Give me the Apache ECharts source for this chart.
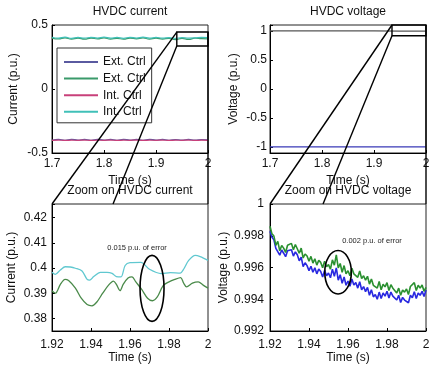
<!DOCTYPE html>
<html><head><meta charset="utf-8">
<script src="https://cdn.jsdelivr.net/npm/echarts@6/dist/echarts.min.js"></script>
<style>html,body{margin:0;padding:0;background:#fff}#c{width:436px;height:371px}</style>
</head><body><div id="c"></div><script>
const FONT = "'Liberation Sans', Arial, sans-serif";

// ---------- DATA ----------
// Top-left: HVDC current (1.7 .. 2 s)
const tTop = [1.7,1.7125,1.725,1.7375,1.75,1.7625,1.775,1.7875,1.8,1.8125,1.825,1.8375,1.85,1.8625,1.875,1.8875,1.9,1.9125,1.925,1.9375,1.95,1.9625,1.975,1.9875,2.0];
const curExtPos = [0.398,0.391,0.399,0.390,0.397,0.389,0.398,0.391,0.399,0.390,0.396,0.389,0.398,0.392,0.399,0.390,0.397,0.390,0.396,0.385,0.396,0.387,0.397,0.393,0.392];
const curIntPos = [0.404,0.397,0.405,0.396,0.403,0.397,0.404,0.398,0.405,0.397,0.403,0.396,0.404,0.398,0.405,0.397,0.403,0.398,0.401,0.396,0.401,0.398,0.399,0.403,0.402];
const curExtNeg = [-0.402,-0.394,-0.401,-0.393,-0.400,-0.394,-0.401,-0.393,-0.400,-0.394,-0.401,-0.393,-0.400,-0.394,-0.401,-0.393,-0.400,-0.394,-0.401,-0.395,-0.400,-0.394,-0.400,-0.395,-0.398];
const curIntNeg = [-0.401,-0.399,-0.402,-0.400,-0.401,-0.399,-0.402,-0.400,-0.401,-0.399,-0.402,-0.400,-0.401,-0.399,-0.402,-0.400,-0.401,-0.399,-0.402,-0.400,-0.401,-0.399,-0.402,-0.400,-0.401];

// Top-right: HVDC voltage
const tVolt = [1.7,1.75,1.8,1.85,1.9,1.95,2.0];
const voltPos = [0.999,0.999,0.999,0.998,0.998,0.996,0.995];
const voltNeg = [-0.995,-0.995,-0.995,-0.995,-0.995,-0.995,-0.995];

// Bottom-left: zoom on HVDC current
const tZoomCyan = [1.9200,1.9217,1.9243,1.9268,1.9294,1.9320,1.9354,1.9379,1.9393,1.9414,1.9448,1.9482,1.9508,1.9530,1.9554,1.9575,1.9600,1.9656,1.9700,1.9760,1.9807,1.9858,1.9875,1.9901,1.9935,1.9960,2.0000];
const zoomCyan  = [0.3983,0.3975,0.3992,0.4005,0.4004,0.3999,0.3988,0.3956,0.3952,0.3966,0.3983,0.3983,0.3979,0.3966,0.3965,0.4010,0.4021,0.4022,0.3995,0.3978,0.3982,0.3980,0.3995,0.4030,0.4050,0.4045,0.4030];
const tZoomGreen = [1.9200,1.9217,1.9243,1.9267,1.9285,1.9320,1.9350,1.9380,1.9405,1.9430,1.9460,1.9490,1.9515,1.9530,1.9549,1.9565,1.9590,1.9610,1.9630,1.9660,1.9690,1.9715,1.9740,1.9770,1.9800,1.9830,1.9860,1.9875,1.9890,1.9920,1.9950,1.9975,2.0000];
const zoomGreen  = [0.3910,0.3900,0.3935,0.3955,0.3950,0.3920,0.3880,0.3855,0.3850,0.3865,0.3900,0.3932,0.3948,0.3935,0.3910,0.3935,0.3960,0.3965,0.3945,0.3915,0.3880,0.3870,0.3885,0.3930,0.3945,0.3955,0.3962,0.3940,0.3925,0.3940,0.3945,0.3932,0.3920];

// Bottom-right: zoom on HVDC voltage
const tZoomV = [1.920,1.921,1.922,1.923,1.924,1.925,1.926,1.927,1.928,1.929,1.930,1.931,1.932,1.933,1.934,1.935,1.936,1.937,1.938,1.939,1.940,1.941,1.942,1.943,1.944,1.945,1.946,1.947,1.948,1.949,1.950,1.951,1.952,1.953,1.954,1.955,1.956,1.957,1.958,1.959,1.960,1.961,1.962,1.963,1.964,1.965,1.966,1.967,1.968,1.969,1.970,1.971,1.972,1.973,1.974,1.975,1.976,1.977,1.978,1.979,1.980,1.981,1.982,1.983,1.984,1.985,1.986,1.987,1.988,1.989,1.990,1.991,1.992,1.993,1.994,1.995,1.996,1.997,1.998,1.999,2.000];
const zoomVGreen = [0.99860,0.99812,0.99798,0.99740,0.99765,0.99705,0.99738,0.99722,0.99695,0.99740,0.99728,0.99752,0.99712,0.99745,0.99718,0.99690,0.99722,0.99660,0.99685,0.99672,0.99640,0.99670,0.99628,0.99655,0.99615,0.99645,0.99632,0.99598,0.99640,0.99605,0.99618,0.99590,0.99648,0.99615,0.99680,0.99598,0.99625,0.99570,0.99612,0.99560,0.99580,0.99548,0.99595,0.99560,0.99572,0.99538,0.99578,0.99530,0.99548,0.99520,0.99545,0.99495,0.99528,0.99488,0.99500,0.99470,0.99512,0.99460,0.99495,0.99478,0.99505,0.99455,0.99492,0.99470,0.99475,0.99440,0.99470,0.99425,0.99458,0.99445,0.99465,0.99430,0.99480,0.99468,0.99505,0.99455,0.99488,0.99470,0.99490,0.99450,0.99475];
const zoomVBlue = [0.99828,0.99790,0.99775,0.99720,0.99730,0.99678,0.99710,0.99690,0.99668,0.99705,0.99695,0.99712,0.99672,0.99698,0.99680,0.99642,0.99665,0.99605,0.99630,0.99612,0.99580,0.99608,0.99570,0.99598,0.99560,0.99590,0.99575,0.99540,0.99582,0.99548,0.99565,0.99535,0.99590,0.99545,0.99598,0.99520,0.99555,0.99500,0.99540,0.99488,0.99515,0.99482,0.99528,0.99490,0.99505,0.99470,0.99510,0.99460,0.99480,0.99448,0.99475,0.99425,0.99460,0.99415,0.99430,0.99400,0.99445,0.99405,0.99440,0.99420,0.99450,0.99408,0.99445,0.99420,0.99428,0.99395,0.99425,0.99380,0.99412,0.99395,0.99405,0.99378,0.99425,0.99410,0.99448,0.99405,0.99440,0.99425,0.99450,0.99418,0.99458];

// Tick labels
const xTicksTop = [1.7,1.8,1.9,2];
const yTicksCur = [-0.5,0,0.5];
const yTicksVolt = [-1,-0.5,0,0.5,1];
const xTicksZoom = [1.92,1.94,1.96,1.98,2];
const yTicksZoomCur = [0.38,0.39,0.4,0.41,0.42];
const yTicksZoomVolt = [0.992,0.994,0.996,0.998,1];

// Zoom boxes / connectors / annotations (data coordinates)
const curBox = [1.94, 2.0, 0.336, 0.445];     // x0, x1, yLow, yHigh
const curLinkX = [1.92, 1.9513, 2.0];
const voltBox = [1.9346, 2.0, 0.915, 1.1];
const voltLinkX = [1.92, 1.9472, 2.0];
const curEllipse = [1.9713, 0.3919, 0.00615, 0.0131];
const voltEllipse = [1.9549, 0.99570, 0.00682, 0.00137];
const curNote = [1.9636, 0.40795, '0.015 p.u. of error'];
const voltNote = [1.9723, 0.99767, '0.002 p.u. of error'];
const titles = ['HVDC current', 'HVDC voltage', 'Zoom on HVDC current', 'Zoom on HVDC voltage'];

// ---------- CHART ----------
const pairs = (ts, vs) => ts.map((t, i) => [t, vs[i]]);
const fmt = ticks => v => { const m = ticks.find(t => Math.abs(t - v) < 1e-9); return m === undefined ? '' : String(m); };

const grids = [
  {left: 52, top: 25, width: 156, height: 128},
  {left: 270, top: 25, width: 156, height: 128},
  {left: 52, top: 204, width: 156, height: 127},
  {left: 270, top: 204, width: 156, height: 127}
].map(g => Object.assign({show: true, borderColor: '#222', borderWidth: 1, backgroundColor: 'transparent'}, g));

function xAx(gi, min, max, interval, ticks, margin, gap) {
  return {
    gridIndex: gi, type: 'value', min, max, interval,
    axisLine: {show: true, onZero: false, lineStyle: {color: '#000', width: 1}},
    axisTick: {show: true, inside: true, length: 3, lineStyle: {color: '#000'}},
    splitLine: {show: false},
    axisLabel: {margin, fontSize: 12, color: '#111', fontFamily: FONT, formatter: fmt(ticks), showMinLabel: true, showMaxLabel: true},
    name: 'Time (s)', nameLocation: 'middle', nameGap: gap,
    nameTextStyle: {fontSize: 12, color: '#111', fontFamily: FONT}
  };
}
function yAx(gi, min, max, interval, ticks, margin, gap, name) {
  const a = {
    gridIndex: gi, type: 'value', min, max,
    axisLine: {show: true, onZero: false, lineStyle: {color: '#000', width: 1}},
    axisTick: {show: true, inside: true, length: 3, lineStyle: {color: '#000'}},
    splitLine: {show: false},
    axisLabel: {margin, fontSize: 12, color: '#111', fontFamily: FONT, formatter: fmt(ticks)},
    name, nameLocation: 'middle', nameGap: gap,
    nameTextStyle: {fontSize: 12, color: '#111', fontFamily: FONT}
  };
  if (interval) a.interval = interval;
  return a;
}

const line = (name, xi, data, color, width, smooth) => ({
  name, type: 'line', xAxisIndex: xi, yAxisIndex: xi, data, symbol: 'none', showSymbol: false,
  smooth: smooth || false, animation: false,
  lineStyle: {color, width}, itemStyle: {color}
});

const option = {
  animation: false,
  backgroundColor: '#fff',
  textStyle: {fontFamily: FONT},
  title: [
    {text: titles[0], left: 130, top: 6, textAlign: 'center'},
    {text: titles[1], left: 348, top: 6, textAlign: 'center'},
    {text: titles[2], left: 130, top: 185, textAlign: 'center'},
    {text: titles[3], left: 348, top: 185, textAlign: 'center'}
  ].map(t => Object.assign(t, {padding: 0, textStyle: {fontSize: 12, fontWeight: 'normal', color: '#111', fontFamily: FONT}})),
  grid: grids,
  xAxis: [
    xAx(0, 1.7, 2, 0.1, xTicksTop, 5, 22),
    xAx(1, 1.7, 2, 0.1, xTicksTop, 5, 22),
    xAx(2, 1.92, 2, 0.02, xTicksZoom, 8, 19),
    xAx(3, 1.92, 2, 0.02, xTicksZoom, 8, 19)
  ],
  yAxis: [
    yAx(0, -0.5, 0.5, 0.5, yTicksCur, 4, 32, 'Current (p.u.)'),
    yAx(1, -1.1, 1.1, null, yTicksVolt, 3, 30, 'Voltage (p.u.)'),
    yAx(2, 0.375, 0.4254, null, yTicksZoomCur, 5, 34, 'Current (p.u.)'),
    yAx(3, 0.992, 1, 0.002, yTicksZoomVolt, 6, 39, 'Voltage (p.u.)')
  ],
  legend: {
    data: ['Ext. Ctrl', 'Ext. Ctrl ', 'Int. Ctrl', 'Int. Ctrl '],
    formatter: n => n.trim(),
    left: 57, top: 48, orient: 'vertical',
    icon: 'rect', itemWidth: 34, itemHeight: 2, itemGap: 4.6, itemTextGap: 3,
    padding: [8, 6, 5, 7],
    backgroundColor: '#fff', borderColor: '#333', borderWidth: 1, borderRadius: 0,
    selectedMode: false,
    textStyle: {fontSize: 12, color: '#111', fontFamily: FONT, lineHeight: 12}
  },
  series: [
    line('Ext. Ctrl', 0, pairs(tTop, curExtNeg), '#5a5aa0', 1.3, 0.5),
    line('Ext. Ctrl ', 0, pairs(tTop, curExtPos), '#3a9a6a', 1.2, 0.5),
    line('Int. Ctrl', 0, pairs(tTop, curIntNeg), '#c8407a', 1.2, 0.5),
    line('Int. Ctrl ', 0, pairs(tTop, curIntPos), '#40c0b8', 1.2, 0.5),
    line('V+', 1, pairs(tVolt, voltPos), '#555555', 1.2),
    line('V-', 1, pairs(tVolt, voltNeg), '#3a3ab8', 1.2),
    line('Int zoom', 2, pairs(tZoomCyan, zoomCyan), '#60c8d0', 1.3, 0.3),
    line('Ext zoom', 2, pairs(tZoomGreen, zoomGreen), '#4a8a4a', 1.3, 0.3),
    line('V blue', 3, pairs(tZoomV, zoomVBlue), '#2828e0', 1.6),
    line('V green', 3, pairs(tZoomV, zoomVGreen), '#2a9030', 1.6)
  ]
};

const chart = echarts.init(document.getElementById('c'), null, {renderer: 'canvas'});
chart.setOption(option);

const P = (g, pt) => chart.convertToPixel({gridIndex: g}, pt);
const G = [];
const stroke = {stroke: '#000', lineWidth: 1.4, fill: null};
function zoomLinks(gTop, box, gBot, linkX, topVal) {
  const a = P(gTop, [box[0], box[3]]), b = P(gTop, [box[1], box[2]]);
  G.push({type: 'rect', shape: {x: a[0], y: a[1], width: b[0] - a[0], height: b[1] - a[1]}, style: stroke, z: 100});
  const e0 = P(gBot, [linkX[0], topVal]), e1 = P(gBot, [linkX[1], topVal]), e2 = P(gBot, [linkX[2], topVal]);
  G.push({type: 'line', shape: {x1: a[0], y1: a[1], x2: e0[0], y2: e0[1]}, style: stroke, z: 100});
  G.push({type: 'line', shape: {x1: a[0], y1: b[1], x2: e1[0], y2: e1[1]}, style: stroke, z: 100});
  G.push({type: 'line', shape: {x1: b[0], y1: a[1], x2: e2[0], y2: e2[1]}, style: stroke, z: 100});
}
zoomLinks(0, curBox, 2, curLinkX, 0.4254);
zoomLinks(1, voltBox, 3, voltLinkX, 1);
function ell(g, e) {
  const c = P(g, [e[0], e[1]]), r = P(g, [e[0] + e[2], e[1] + e[3]]);
  G.push({type: 'ellipse', shape: {cx: c[0], cy: c[1], rx: Math.abs(r[0] - c[0]), ry: Math.abs(r[1] - c[1])}, style: {stroke: '#000', lineWidth: 1.6, fill: null}, z: 100});
}
ell(2, curEllipse);
ell(3, voltEllipse);
function note(g, n) {
  const c = P(g, [n[0], n[1]]);
  G.push({type: 'text', x: c[0], y: c[1], style: {text: n[2], fontSize: 7.5, fontFamily: FONT, fill: '#222', align: 'center', verticalAlign: 'middle'}, z: 100});
}
note(2, curNote);
note(3, voltNote);
chart.setOption({graphic: G});
</script></body></html>
